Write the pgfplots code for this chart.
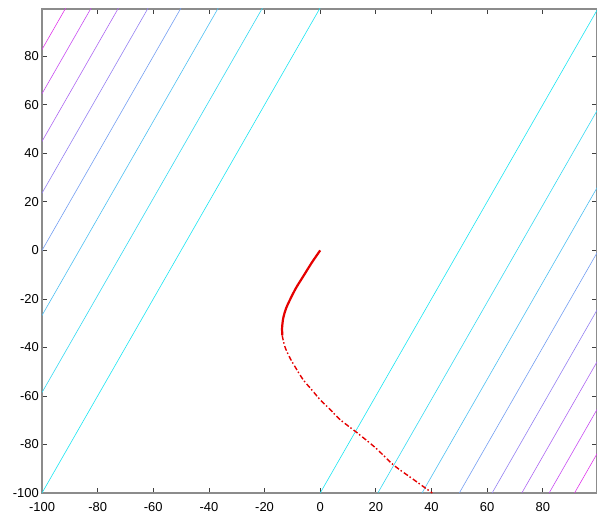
\documentclass[border=0pt]{standalone}
\usepackage{fontspec}
\setmainfont{Liberation Sans}
\usepackage{pgfplots}
\pgfplotsset{compat=1.18}
\begin{document}
\begin{tikzpicture}
\def\lw{0.6bp}
\begin{axis}[
  scale only axis,
  width=555bp, height=484bp,
  xmin=-100, xmax=99.5, ymin=-100, ymax=99.5,
  xtick={-100,-80,...,80}, ytick={-100,-80,...,80},
  tick align=inside,
  major tick length=5bp,
  tick style={color=black!75, line width=0.8bp},
  axis line style={color=black!45, line width=1.3bp},
  /pgf/number format/assume math mode=true,
  ticklabel style={font=\fontsize{13}{15}\selectfont},
  xticklabel style={inner sep=0pt, yshift=-9bp},
  yticklabel style={inner sep=0pt, xshift=-3bp},
  clip=true,
]
% contour lines y = 2x + c, c = +-100*sqrt(k)
\pgfplotsset{cl/.style={line width=\lw}}
\definecolor{c1}{rgb}{0.10,0.90,0.95}
\definecolor{c2}{rgb}{0.20,0.85,0.95}
\definecolor{c3}{rgb}{0.30,0.75,0.95}
\definecolor{c4}{rgb}{0.45,0.62,0.95}
\definecolor{c5}{rgb}{0.58,0.50,0.95}
\definecolor{c6}{rgb}{0.68,0.40,0.95}
\definecolor{c7}{rgb}{0.78,0.30,0.95}
\definecolor{c8}{rgb}{0.88,0.22,0.92}
% left family
\addplot[cl, c1] coordinates {(-100,-100) (0,100)};
\addplot[cl, c2] coordinates {(-120.71,-100) (-20.71,100)};
\addplot[cl, c3] coordinates {(-136.60,-100) (-36.60,100)};
\addplot[cl, c4] coordinates {(-150,-100) (-50,100)};
\addplot[cl, c5] coordinates {(-161.80,-100) (-61.80,100)};
\addplot[cl, c6] coordinates {(-172.47,-100) (-72.47,100)};
\addplot[cl, c7] coordinates {(-182.29,-100) (-82.29,100)};
\addplot[cl, c8] coordinates {(-191.42,-100) (-91.42,100)};
% right family
\addplot[cl, c1] coordinates {(0,-100) (100,100)};
\addplot[cl, c2] coordinates {(20.71,-100) (120.71,100)};
\addplot[cl, c3] coordinates {(36.60,-100) (136.60,100)};
\addplot[cl, c4] coordinates {(50,-100) (150,100)};
\addplot[cl, c5] coordinates {(61.80,-100) (161.80,100)};
\addplot[cl, c6] coordinates {(72.47,-100) (172.47,100)};
\addplot[cl, c7] coordinates {(82.29,-100) (182.29,100)};
\addplot[cl, c8] coordinates {(91.42,-100) (191.42,100)};
% red trajectory: dense part
\addplot[red!90!black, line width=2.2bp, smooth] coordinates {
 (0,0) (-3,-5) (-6.1,-10.7) (-8.7,-15.5) (-10.8,-20.2) (-12.3,-24)
 (-13.3,-28) (-13.7,-32) (-13.6,-35)
};
% red trajectory: sparse part
\addplot[red!90!black, line width=1.4bp, smooth,
  dash pattern=on 5bp off 2bp on 1.5bp off 2.5bp] coordinates {
 (-13.6,-35) (-13.5,-36) (-12.6,-40) (-10.8,-44.5) (-8.5,-49) (-6,-53.5)
 (-3,-57.5) (0,-61.6) (3.5,-65.5) (7.2,-69.8) (13.3,-75.2) (20,-81.5)
 (26.3,-88.4) (33,-94) (40.3,-100)
};
\coordinate (ll) at (rel axis cs:0,0);
\coordinate (ur) at (rel axis cs:1,1);
\end{axis}
\pgfresetboundingbox
\path ([xshift=-42bp,yshift=-22bp]ll) rectangle ([yshift=9bp]ur);
\end{tikzpicture}
\end{document}
